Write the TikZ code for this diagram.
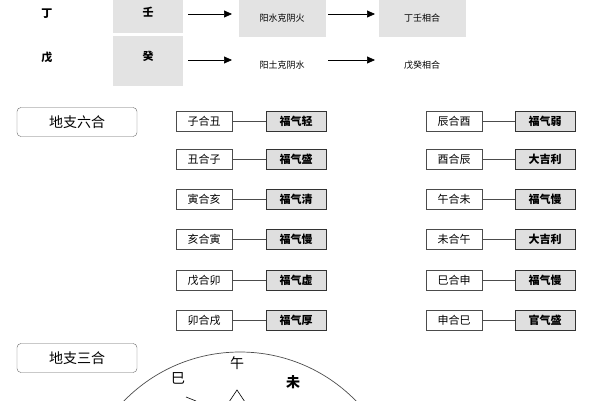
\documentclass[tikz,border=0pt]{standalone}
\usepackage{fontspec}
\setmainfont{Noto Sans CJK SC}
\usetikzlibrary{arrows.meta}
\begin{document}
\begin{tikzpicture}[x=1pt,y=-1pt,
 gbox/.style={fill=gray!22,minimum height=0,inner sep=0,font=\fontsize{9}{10}\selectfont},
 pbox/.style={draw=black!70,minimum width=56pt,minimum height=20pt,inner sep=0,font=\fontsize{11}{12}\selectfont},
 fbox/.style={pbox,fill=gray!25,draw=black!80,minimum width=60pt,font=\bfseries\fontsize{11}{12}\selectfont},
 tag/.style={draw=black!60,rounded corners=4pt,minimum width=120pt,minimum height=29pt,inner sep=0,font=\fontsize{14}{15}\selectfont},
 arr/.style={-{Triangle[length=8pt,width=7pt]},line width=0.7pt},
 lnk/.style={draw=black!70,line width=0.6pt},
 lbl/.style={font=\bfseries\fontsize{11}{12}\selectfont}]
\useasboundingbox (0,0) rectangle (600,400);
% top
\node[gbox,minimum width=70pt,minimum height=33pt] (g1) at (148,16.5) {};
\node[gbox,minimum width=70pt,minimum height=50pt] (g2) at (148,61) {};
\node[lbl] (t1) at (47,14) {丁};
\node[lbl] (t2) at (47,57) {戊};
\node[lbl] (w1) at (148,12) {壬};
\node[lbl] (w2) at (148,56) {癸};
\node[gbox,minimum width=87pt,minimum height=37pt] (a1) at (282,18) {阳水克阴火};
\node[gbox,minimum width=87pt,minimum height=37pt] (b1) at (422,18) {丁壬相合};
\node[font=\fontsize{9}{10}\selectfont] (a2) at (282,65) {阳土克阴水};
\node[font=\fontsize{9}{10}\selectfont] (b2) at (422,65) {戊癸相合};
\coordinate (c1) at (188,14); \coordinate (c2) at (232,14);
\coordinate (c3) at (328,14); \coordinate (c4) at (375,14);
\coordinate (d1) at (188,60); \coordinate (d2) at (232,60);
\coordinate (d3) at (328,60); \coordinate (d4) at (375,60);
\draw[arr] (c1) -- (c2);
\draw[arr] (c3) -- (c4);
\draw[arr] (d1) -- (d2);
\draw[arr] (d3) -- (d4);
% liuhe
\node[tag] (L) at (77,122) {地支六合};
\foreach \y/\p/\f/\q/\g [count=\i] in {121/子合丑/福气轻/辰合酉/福气弱, 159/丑合子/福气盛/酉合辰/大吉利, 199/寅合亥/福气清/午合未/福气慢, 239/亥合寅/福气慢/未合午/大吉利, 280/戊合卯/福气虚/巳合申/福气慢, 320/卯合戌/福气厚/申合巳/官气盛}{
 \node[pbox] (p\i) at (204,\y) {\p};
 \node[fbox] (f\i) at (296,\y) {\f};
 \draw[lnk] (p\i) -- (f\i);
 \node[pbox] (q\i) at (454,\y) {\q};
 \node[fbox] (h\i) at (545,\y) {\g};
 \draw[lnk] (q\i) -- (h\i);
}
% sanhe
\node[tag] (S) at (77,358) {地支三合};
\draw[black!70,line width=0.7pt] (240,514) circle (162);
\node[font=\fontsize{14}{15}\selectfont] (si) at (178,378) {巳};
\node[font=\fontsize{14}{15}\selectfont] (wu) at (237,363) {午};
\node[font=\bfseries\fontsize{14}{15}\selectfont] (wei) at (293,382) {未};
\draw[line width=0.6pt] (229,402) -- (237,390) -- (245,402);
\draw[line width=0.6pt] (186,397) -- (196,401);
\end{tikzpicture}
\end{document}
